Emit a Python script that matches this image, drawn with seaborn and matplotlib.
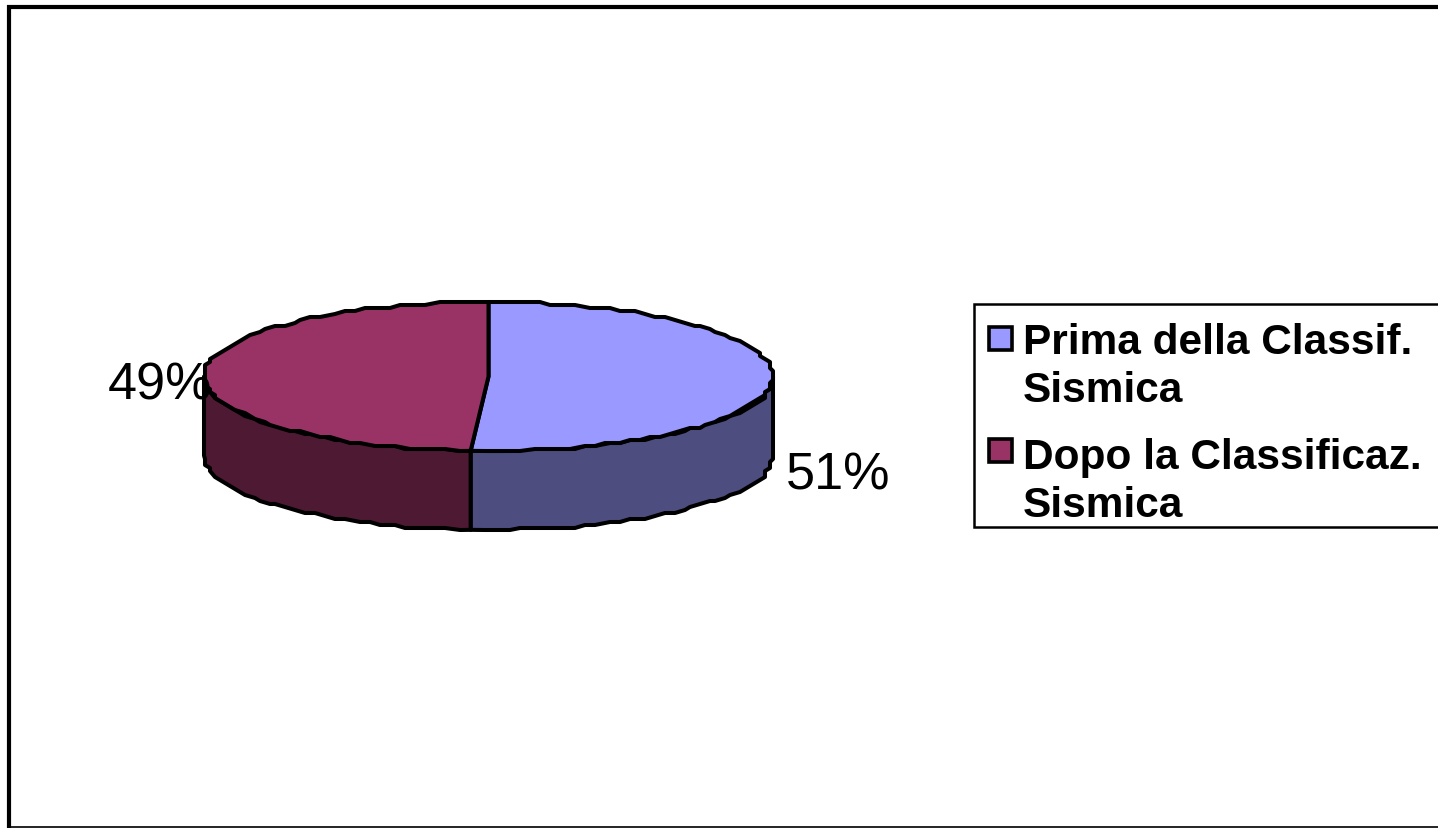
import numpy as np
import matplotlib.pyplot as plt
from matplotlib.patches import Polygon, Rectangle
import seaborn as sns

# data
series_labels = ['Prima della Classif.\nSismica', 'Dopo la Classificaz.\nSismica']
series_values = [51, 49]
top_colors = ['#9999FF', '#993366']
side_colors = ['#4D4D80', '#4D1933']

sns.set_style('white')
plt.rcParams['font.family'] = ['Liberation Sans', 'DejaVu Sans']
palette = sns.color_palette(top_colors)
side_palette = sns.color_palette(side_colors)

W, H = 1438, 829
fig = plt.figure(figsize=(W / 100, H / 100), dpi=100)
ax = fig.add_axes([0, 0, 1, 1])
ax.set_xlim(0, W)
ax.set_ylim(H, 0)
ax.axis('off')

# outer chart frame runs off the right side of the image
ax.plot([W + 5, 9, 9], [8, 8, H], color='black', lw=3.0, solid_joinstyle='miter')
ax.plot([9, W], [828.3, 828.3], color='black', lw=1.2)

# pie geometry (px)
cx, cy, rx, ry, depth = 488.5, 377.5, 284.5, 74.5, 79
LW = 2.9


def rim(a0, a1, dy=0):
    """Points on the ellipse between two clockwise angles, stepped like the old bitmap."""
    n = max(int(abs(a1 - a0) / 2.5), 2)
    a = np.radians(np.linspace(a0, a1, n))
    x = cx + rx * np.sin(a)
    y = cy - ry * np.cos(a)
    x[1:-1] = np.clip(np.round(x[1:-1] / 5) * 5, cx - rx, cx + rx)
    y[1:-1] = np.clip(np.round(y[1:-1] / 3) * 3, cy - ry, cy + ry)
    return np.column_stack([x, y + dy])


angles = np.cumsum([0] + series_values) / np.sum(series_values) * 360

# walls first, then the top faces
for i in range(len(series_values)):
    a0, a1 = max(angles[i], 90), min(angles[i + 1], 270)
    if a1 > a0:
        upper = rim(a0, a1)
        lower = rim(a0, a1, depth)
        ax.add_patch(Polygon(np.vstack([upper, lower[::-1]]), closed=True,
                             fc=side_palette[i], ec='black', lw=LW, joinstyle='round'))

for i in range(len(series_values)):
    pts = np.vstack([[cx, cy], rim(angles[i], angles[i + 1])])
    ax.add_patch(Polygon(pts, closed=True, fc=palette[i], ec='black', lw=LW, joinstyle='round'))

# percentage labels
ax.text(786, 490, f'{series_values[0]}%', fontsize=37.5, color='black', ha='left', va='baseline', zorder=6)
ax.text(108, 399, f'{series_values[1]}%', fontsize=37.5, color='black', ha='left', va='baseline', zorder=6)

# legend box also runs off the right edge
ax.add_patch(Rectangle((973.5, 304.5), W, 223.5, fc='white', ec='black', lw=1.8, zorder=3))
key_tops = [327.5, 439.5]
text_baselines = [402, 517]
for i, lab in enumerate(series_labels):
    ax.add_patch(Rectangle((988.5, key_tops[i]), 23, 23, fc=palette[i], ec='black', lw=2.6, zorder=5))
    ax.text(1023, text_baselines[i], lab, fontsize=30.5, fontweight='bold', color='black',
            ha='left', va='baseline', linespacing=1.27, zorder=5)

fig.savefig('out.png', dpi=100)
